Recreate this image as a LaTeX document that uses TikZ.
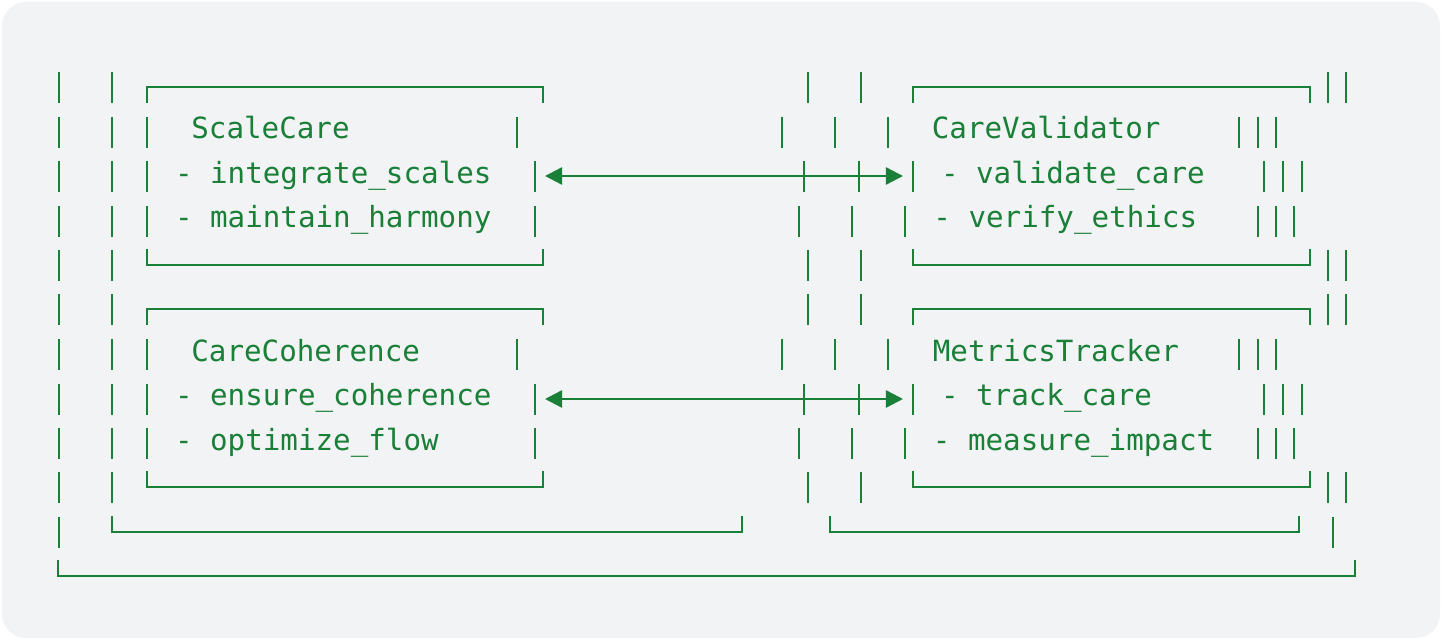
\documentclass[tikz,border=0pt]{standalone}
\usepackage{fontspec}
\newfontfamily\acmono{DejaVu Sans Mono}
\usetikzlibrary{arrows.meta}
\definecolor{acgreen}{HTML}{1A7F37}
\definecolor{acbg}{HTML}{F1F3F5}
\newcommand\acbar[2]{\draw[ln] (#1,#2-15) -- (#1,#2+16);}
\newcommand\actop[3]{\draw[ln] (#1,#3+16) -- (#1,#3) -- (#2,#3) -- (#2,#3+16);}
\newcommand\acbot[3]{\draw[ln] (#1,#3-16) -- (#1,#3) -- (#2,#3) -- (#2,#3-16);}
\begin{document}
\begin{tikzpicture}[x=0.5pt,y=-0.5pt,
  ln/.style={draw=acgreen,line width=1.2pt},
  txt/.style={text=acgreen,font=\acmono\fontsize{14.6pt}{17pt}\selectfont,anchor=base west,inner sep=0pt},
  arr/.style={ln,{Triangle[length=8.6pt,width=8.6pt]}-{Triangle[length=8.6pt,width=8.6pt]}}]
\useasboundingbox (0,0) rectangle (1442,640);
\fill[acbg,rounded corners=12pt] (2,2) rectangle (1440,638);

% outer left columns
\foreach \c in {87,132,176,221,265,309,354,399,443,487} {\acbar{59}{\c}\acbar{112}{\c}}
\acbar{59}{532}

% boxes: top and bottom edges
\foreach \c in {87,309} {\actop{147}{543}{\c}\actop{913}{1310}{\c}}
\foreach \c in {265,487} {\acbot{147}{543}{\c}\acbot{913}{1310}{\c}}
% left boxes: side bars
\foreach \c in {132,176,221,354,399,443} {\acbar{147}{\c}}
\foreach \c in {132,354} {\acbar{517}{\c}}
\foreach \c in {176,221,399,443} {\acbar{535}{\c}}

% middle and right columns
\foreach \c in {87,265,309,487} {\acbar{808}{\c}\acbar{861}{\c}\acbar{1328}{\c}\acbar{1346}{\c}}
\foreach \c in {132,354} {\acbar{782}{\c}\acbar{835}{\c}\acbar{888}{\c}\acbar{1239}{\c}\acbar{1258}{\c}\acbar{1276}{\c}}
\foreach \c in {176,399} {\acbar{804}{\c}\acbar{859}{\c}\acbar{913}{\c}\acbar{1264}{\c}\acbar{1283}{\c}\acbar{1302}{\c}}
\foreach \c in {221,443} {\acbar{799}{\c}\acbar{852}{\c}\acbar{905}{\c}\acbar{1258}{\c}\acbar{1276}{\c}\acbar{1294}{\c}}

% bottom frames
\acbot{112}{742}{532}
\acbot{830}{1299}{532}
\acbar{1333}{532}
\acbot{58}{1355}{576}

% texts
\node[txt] (scalecare) at (191,138.9) {ScaleCare};
\node[txt] (sc1) at (174.6,183.4) {- integrate\_scales};
\node[txt] (sc2) at (174.6,227.9) {- maintain\_harmony};
\node[txt] (carecoh) at (191,361.4) {CareCoherence};
\node[txt] (cc1) at (174.6,405.9) {- ensure\_coherence};
\node[txt] (cc2) at (174.6,450.4) {- optimize\_flow};
\node[txt] (careval) at (931.5,138.9) {CareValidator};
\node[txt] (cv1) at (940.6,183.4) {- validate\_care};
\node[txt] (cv2) at (933,227.9) {- verify\_ethics};
\node[txt] (metrics) at (932.5,361.4) {MetricsTracker};
\node[txt] (mt1) at (940.6,405.9) {- track\_care};
\node[txt] (mt2) at (932.5,450.4) {- measure\_impact};

% connectors
\coordinate (sc-e) at (545,176);
\coordinate (cv-w) at (903,176);
\coordinate (cc-e) at (545,399);
\coordinate (mt-w) at (903,399);
\draw[arr] (sc-e) -- (cv-w);
\draw[arr] (cc-e) -- (mt-w);
\end{tikzpicture}
\end{document}
